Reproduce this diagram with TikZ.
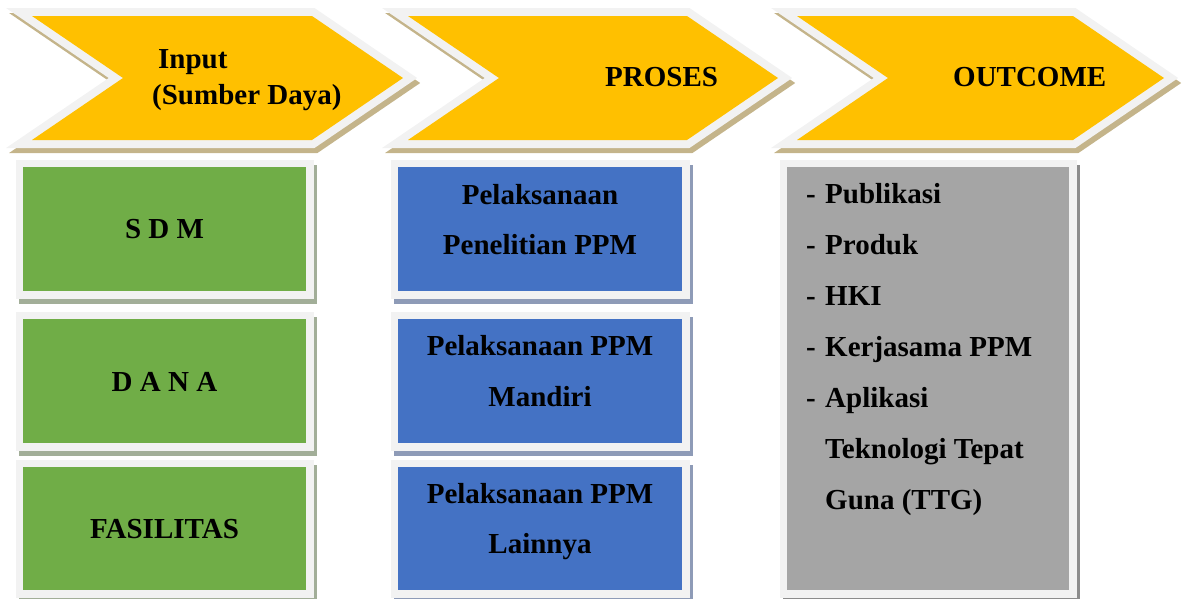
\documentclass[tikz,border=0pt]{standalone}
\usepackage{fontspec}
\setmainfont{Liberation Serif}
\usetikzlibrary{calc}
\definecolor{chevY}{HTML}{FFC000}
\definecolor{bordc}{HTML}{F2F2F2}
\definecolor{chsh}{HTML}{C4B48A}
\definecolor{grn}{HTML}{70AD47}
\definecolor{grnsh}{HTML}{A2AE98}
\definecolor{blu}{HTML}{4472C4}
\definecolor{blush}{HTML}{8E9BB7}
\definecolor{gry}{HTML}{A5A5A5}
\definecolor{grysh}{HTML}{8C8C8C}
\pgfdeclarelayer{background}
\pgfsetlayers{background,main}
\newcommand\mychev[2]{%
  \path[fill=chsh, draw=chsh, line width=16pt, line join=miter, shift={(3,5)}]
    (#1,16) -- (#2,16) -- (#2+91,78) -- (#2,140) -- (#1,140) -- (#1+91,78) -- cycle;
  \path[fill=bordc, draw=bordc, line width=16pt, line join=miter]
    (#1,16) -- (#2,16) -- (#2+91,78) -- (#2,140) -- (#1,140) -- (#1+91,78) -- cycle;
  \path[fill=chevY]
    (#1,16) -- (#2,16) -- (#2+91,78) -- (#2,140) -- (#1,140) -- (#1+91,78) -- cycle;}
\newcommand\myboxframe[2]{%
  \begin{pgfonlayer}{background}
    \fill[#2] ($(#1.north west)+(-4.5,-2.5)$) rectangle ($(#1.south east)+(10.5,12.5)$);
    \fill[bordc] ($(#1.north west)+(-7.5,-7.5)$) rectangle ($(#1.south east)+(7.5,7.5)$);
  \end{pgfonlayer}}
\begin{document}
\begin{tikzpicture}[x=1pt,y=-1pt,
  lbl/.style={font=\fontsize{29}{51}\selectfont\bfseries, inner sep=0pt, text=black},
  panel/.style={draw=none, inner sep=0pt, outer sep=0pt, minimum height=124pt},
  gbox/.style={panel, fill=grn, minimum width=283pt},
  bbox/.style={panel, fill=blu, minimum width=284pt},
  ybox/.style={panel, fill=gry, minimum width=282pt, minimum height=423pt}]
\useasboundingbox (0,0) rectangle (1187,598);
\clip (0,0) rectangle (1187,598);

% chevrons
\mychev{32}{312}
\mychev{408}{687}
\mychev{797}{1073}
\node[lbl, anchor=base west] (inA) at (158,68) {Input};
\node[lbl, anchor=base west] (inB) at (152,104) {(Sumber Daya)};
\node[lbl, anchor=base west] (proses) at (605,86) {PROSES};
\node[lbl, anchor=base west] (outcome) at (953,86) {OUTCOME};

% input boxes
\node[gbox] (sdm) at (164.5,229) {};
\node[gbox] (dana) at (164.5,381) {};
\node[gbox, minimum height=123pt] (fas) at (164.5,528.5) {};
\myboxframe{sdm}{grnsh}
\myboxframe{dana}{grnsh}
\myboxframe{fas}{grnsh}
\node[lbl, anchor=base] (sdmT) at (164.5,238.5) {S D M};
\node[lbl, anchor=base] (danaT) at (164.5,391) {D A N A};
\node[lbl, anchor=base] (fasT) at (164.5,538) {FASILITAS};

% process boxes
\node[bbox] (p1) at (540,229) {};
\node[bbox] (p2) at (540,381) {};
\node[bbox, minimum height=123pt] (p3) at (540,528.5) {};
\myboxframe{p1}{blush}
\myboxframe{p2}{blush}
\myboxframe{p3}{blush}
\node[lbl, anchor=base] (p1a) at (540,204) {Pelaksanaan};
\node[lbl, anchor=base] (p1b) at (540,254) {Penelitian PPM};
\node[lbl, anchor=base] (p2a) at (540,355) {Pelaksanaan PPM};
\node[lbl, anchor=base] (p2b) at (540,406) {Mandiri};
\node[lbl, anchor=base] (p3a) at (540,503) {Pelaksanaan PPM};
\node[lbl, anchor=base] (p3b) at (540,553) {Lainnya};

% outcome box
\node[ybox] (out) at (928,378.5) {};
\myboxframe{out}{grysh}
\node[lbl, anchor=base west] (o1) at (806,203) {\makebox[19pt][l]{-}Publikasi};
\node[lbl, anchor=base west] (o2) at (806,254) {\makebox[19pt][l]{-}Produk};
\node[lbl, anchor=base west] (o3) at (806,305) {\makebox[19pt][l]{-}HKI};
\node[lbl, anchor=base west] (o4) at (806,356) {\makebox[19pt][l]{-}Kerjasama PPM};
\node[lbl, anchor=base west] (o5) at (806,407) {\makebox[19pt][l]{-}Aplikasi};
\node[lbl, anchor=base west] (o6) at (825,458) {Teknologi Tepat};
\node[lbl, anchor=base west] (o7) at (825,509) {Guna (TTG)};
\end{tikzpicture}
\end{document}
